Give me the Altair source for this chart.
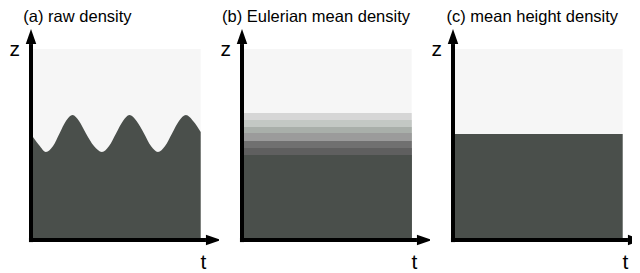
import altair as alt
import pandas as pd

# ---- data ----
titles = ["(a) raw density", "(b) Eulerian mean density", "(c) mean height density"]
title_t = [-0.45, -1.18, -0.38]

# panel (a): interface height of the raw density
wave_t = [0, 0.47, 0.88, 1.30, 1.68, 2.06, 2.45, 2.83, 3.24, 3.71, 4.18, 4.60, 5.01,
          5.42, 5.80, 6.22, 6.66, 7.07, 7.48, 7.90, 8.31, 8.72, 9.13, 9.55, 10]
wave_z = [5.55, 4.97, 4.61, 4.92, 5.58, 6.23, 6.54, 6.23, 5.58, 4.92, 4.61, 4.92, 5.58,
          6.23, 6.54, 6.23, 5.58, 4.92, 4.61, 4.92, 5.58, 6.23, 6.54, 6.23, 5.65]

# panel (b): Eulerian mean bands (top of each band, lightest first)
band_top = [6.65, 6.28, 5.92, 5.60, 5.18, 4.82]
band_colors = ["#d6d6d6", "#c3c8c4", "#a9afaa", "#9b9b9b", "#707070", "#5f5f5f"]
eulerian_dense_top = 4.45

# panel (c): mean height
mean_height = 5.55

LIGHT = "#f6f6f6"
DARK = "#4a4f4b"
FONT = "Liberation Sans"

PX_T = 16.97   # pixels per t unit
AXIS_OFF = 23  # pixels from panel edge to axis
WIDTHS = [211, 211, 202]
H = 262
Z_DOM = [-1.571, 12.147]
ys = alt.Scale(domain=Z_DOM, nice=False, zero=False)


def make_x(width):
    xs = alt.Scale(domain=[-AXIS_OFF / PX_T, (width - AXIS_OFF) / PX_T], nice=False, zero=False)

    def X(f):
        return alt.X(f, type="quantitative", scale=xs, axis=None)
    return X


def Y(f):
    return alt.Y(f, type="quantitative", scale=ys, axis=None)


def rects(X, z0, z1, colors):
    n = len(colors)
    df = pd.DataFrame({"t0": [0] * n, "t1": [10] * n, "z0": z0, "z1": z1, "c": colors})
    return alt.Chart(df).mark_rect(strokeWidth=0).encode(
        x=X("t0"), x2="t1", y=Y("z0"), y2="z1",
        color=alt.Color("c:N", scale=None),
    )


def decorations(i, X):
    vr = alt.Chart(pd.DataFrame({"t": [0], "z0": [-0.11], "z1": [10.26]})).mark_rule(
        strokeWidth=4, color="black", strokeCap="butt"
    ).encode(x=X("t"), y=Y("z0"), y2="z1")
    hr = alt.Chart(pd.DataFrame({"t0": [-0.12], "t1": [10.31], "z": [0]})).mark_rule(
        strokeWidth=4, color="black", strokeCap="butt"
    ).encode(x=X("t0"), x2="t1", y=Y("z"))
    up = alt.Chart(pd.DataFrame({"t": [0], "z": [10.65]})).mark_point(
        shape="M0,-1L0.7,1L-0.7,1Z", size=225, filled=True, color="black",
        opacity=1, strokeWidth=0, clip=True
    ).encode(x=X("t"), y=Y("z"))
    right = alt.Chart(pd.DataFrame({"t": [10.75], "z": [0]})).mark_point(
        shape="M1,0L-1,0.7L-1,-0.7Z", size=225, filled=True, color="black",
        opacity=1, strokeWidth=0, clip=True
    ).encode(x=X("t"), y=Y("z"))
    labels = alt.Chart(pd.DataFrame({"t": [-0.96, 10.16], "z": [9.63, -1.50],
                                     "s": ["z", "t"]})).mark_text(
        font=FONT, fontSize=21, align="center", baseline="alphabetic", color="black"
    ).encode(x=X("t"), y=Y("z"), text="s:N")
    title = alt.Chart(pd.DataFrame({"t": [title_t[i]], "z": [11.41],
                                    "s": [titles[i]]})).mark_text(
        font=FONT, fontSize=16.5, align="left", baseline="alphabetic", color="black"
    ).encode(x=X("t"), y=Y("z"), text="s:N")
    return [vr, hr, up, right, labels, title]


# panel (a)
Xa = make_x(WIDTHS[0])
bg = rects(Xa, [0], [10], [LIGHT])
wave_df = pd.DataFrame({"t": wave_t, "z": wave_z, "base": [0] * len(wave_t)})
wave = alt.Chart(wave_df).mark_area(interpolate="monotone", color=DARK, opacity=1).encode(
    x=Xa("t"), y=Y("z"), y2="base"
)
pa = alt.layer(bg, wave, *decorations(0, Xa)).properties(width=WIDTHS[0], height=H)

# panel (b): light, then each band from the floor to its top, dark last (no seams)
Xb = make_x(WIDTHS[1])
nb = len(band_top) + 2
bands = rects(Xb, [0] * nb, [10] + band_top + [eulerian_dense_top],
              [LIGHT] + band_colors + [DARK])
pb = alt.layer(bands, *decorations(1, Xb)).properties(width=WIDTHS[1], height=H)

# panel (c)
Xc = make_x(WIDTHS[2])
flat = rects(Xc, [0, 0], [10, mean_height], [LIGHT, DARK])
pc = alt.layer(flat, *decorations(2, Xc)).properties(width=WIDTHS[2], height=H)

chart = alt.hconcat(pa, pb, pc, spacing=0, bounds="flush").properties(
    padding=0
).configure_view(stroke=None)

chart.save("out.html", embed_options={"renderer": "svg", "actions": False})
